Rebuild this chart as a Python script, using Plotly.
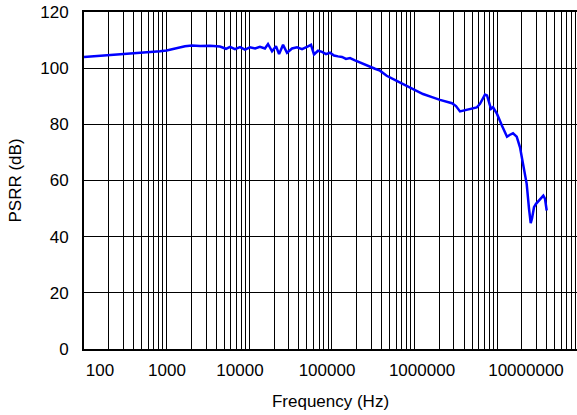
import plotly.graph_objects as go

# PSRR vs frequency
freq_hz = [
    100, 125, 156, 206, 273, 414, 630, 832, 1000, 1260, 1670, 2030, 2540,
    3350, 4430, 5240, 5860, 6730, 7740, 8900, 10200, 11800, 13500, 15500,
    16900, 18900, 21100, 23000, 25700, 28700, 33000, 37900, 43600, 50100,
    56000, 60900, 68100, 76100, 85100, 95100, 106300, 118900, 132900,
    148600, 166100, 190900, 219500, 252300, 290100, 333400, 383200,
    461900, 610700, 769600, 969800, 1271000, 1634000, 2041000, 2852000,
    3188000, 3565000, 4298000, 5678000, 6227000, 6769000, 7155000,
    7567000, 8000000, 8459000, 8945000, 10000000, 11495000, 13216000,
    14370000, 15620000, 17320000, 18990000, 20640000, 22880000, 24400000,
    25590000, 26530000, 28050000, 29670000, 33160000, 36350000, 38120000,
    39960000,
]
psrr_db = [
    104.0, 104.2, 104.5, 104.6, 105.0, 105.4, 105.8, 106.0, 106.3, 107.0,
    107.8, 108.1, 107.9, 108.0, 107.7, 106.9, 107.6, 106.8, 107.5, 106.6,
    107.4, 107.0, 107.6, 107.0, 108.6, 106.0, 107.8, 105.0, 108.3, 105.5,
    107.0, 107.4, 106.8, 107.6, 108.3, 104.9, 106.2, 105.8, 105.0, 105.5,
    104.5, 104.2, 104.0, 103.3, 103.6, 102.8, 102.0, 101.2, 100.5, 99.8,
    99.1, 97.3, 95.5, 94.1, 92.6, 90.8, 89.7, 88.7, 87.5, 86.5,
    84.6, 85.1, 86.0, 87.3, 89.5, 90.6, 90.3, 88.0, 85.5, 86.1,
    83.7, 79.5, 75.6, 76.3, 76.8, 75.6, 71.8, 66.0, 58.8, 50.0,
    44.8, 46.5, 50.5, 51.7, 53.5, 54.6, 53.5, 49.3,
]

# Frequency axis labels and where they sit along the axis
tick_text = ["100", "1000", "10000", "100000", "1000000", "10000000"]
tick_at = [156, 1011, 7740, 87500, 1236000, 22440000]

# gridlines at every 1..9 multiple of each decade
grid_vals = [m * 10 ** e for e in range(2, 9) for m in range(1, 10)]

FONT = "Arial, Liberation Sans, Helvetica, sans-serif"

fig = go.Figure()
fig.add_trace(go.Scatter(
    x=freq_hz, y=psrr_db, mode="lines",
    line=dict(color="#0000ff", width=2.5),
    hoverinfo="x+y", showlegend=False,
))

fig.update_layout(
    width=577, height=415,
    margin=dict(l=84, r=0, t=12, b=66),
    paper_bgcolor="white", plot_bgcolor="white",
    font=dict(family=FONT, size=17, color="black"),
    xaxis=dict(
        type="log", range=[2, 2 + 493 / 82.6],
        tickmode="array", tickvals=tick_at, ticktext=tick_text,
        showgrid=False, ticks="", ticklabelstandoff=5,
        minor=dict(tickmode="array", tickvals=grid_vals, showgrid=True,
                   gridcolor="black", gridwidth=1, ticks=""),
        showline=True, linecolor="black", linewidth=2, mirror=True,
        zeroline=False,
        title=dict(text="Frequency (Hz)", font=dict(size=17), standoff=16),
    ),
    yaxis=dict(
        range=[0, 120], tickmode="linear", tick0=0, dtick=20,
        showgrid=True, gridcolor="black", gridwidth=1, ticks="",
        ticklabelstandoff=10,
        showline=True, linecolor="black", linewidth=2, zeroline=False,
        title=dict(text="PSRR (dB)", font=dict(size=17), standoff=14),
    ),
)

fig.write_html("out.html")
